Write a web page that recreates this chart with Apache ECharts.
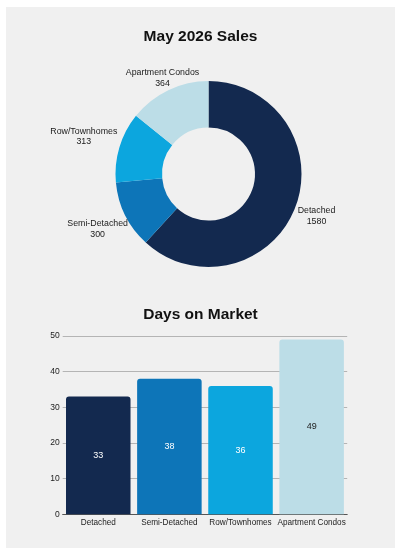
<!DOCTYPE html>
<html>
<head>
<meta charset="utf-8">
<script src="https://cdn.jsdelivr.net/npm/echarts@6/dist/echarts.min.js"></script>
<style>
  html, body { margin: 0; padding: 0; background: #ffffff; }
  #chart { position: absolute; left: 6px; top: 7px; width: 389px; height: 541px; background: #f0f0f0; }
</style>
</head>
<body>
<div id="chart"></div>
<script>
// ---- data ----
var categories = ['Detached', 'Semi-Detached', 'Row/Townhomes', 'Apartment Condos'];
var salesValues = [1580, 300, 313, 364];
var daysOnMarket = [33, 38, 36, 49];
var yTicks = [0, 10, 20, 30, 40, 50];

var pieTitle = 'May 2026 Sales';
var barTitle = 'Days on Market';

// ---- styles ----
var colors = ['#13294f', '#0d75b8', '#0ca6de', '#bcdde7'];
var valueLabelColors = ['#ffffff', '#ffffff', '#ffffff', '#222222'];
var FONT = '"Liberation Sans", Arial, sans-serif';
var PIE_CX = 202.5, PIE_CY = 167;

var chart = echarts.init(document.getElementById('chart'), null, { renderer: 'canvas' });

var option = {
  animation: false,
  backgroundColor: '#f0f0f0',
  textStyle: { fontFamily: FONT },
  title: [
    { text: pieTitle, left: 'center', top: 17,
      textStyle: { fontFamily: FONT, fontSize: 15.5, fontWeight: 'bold', color: '#111111' } },
    { text: barTitle, left: 'center', top: 295,
      textStyle: { fontFamily: FONT, fontSize: 15.5, fontWeight: 'bold', color: '#111111' } }
  ],
  grid: { left: 56.7, top: 329, width: 284.5, height: 178.3, containLabel: false },
  xAxis: {
    type: 'category',
    data: categories,
    axisTick: { show: false },
    axisLine: { show: true, lineStyle: { color: '#555555', width: 1 } },
    axisLabel: { color: '#222222', fontSize: 8.2, margin: 4, interval: 0, fontFamily: FONT }
  },
  yAxis: {
    type: 'value',
    min: yTicks[0],
    max: yTicks[yTicks.length - 1],
    interval: yTicks[1] - yTicks[0],
    axisLine: { show: false },
    axisTick: { show: false },
    axisLabel: { color: '#222222', fontSize: 8.5, margin: 3, fontFamily: FONT },
    splitLine: { lineStyle: { color: '#b4b4b4', width: 1 } }
  },
  series: [
    {
      type: 'pie',
      center: [PIE_CX, PIE_CY],
      radius: [46.5, 93],
      startAngle: 90,
      clockwise: true,
      avoidLabelOverlap: false,
      silent: true,
      data: categories.map(function (c, i) {
        return { name: c, value: salesValues[i], itemStyle: { color: colors[i] } };
      }),
      label: {
        show: true,
        position: 'outside',
        formatter: '{b}\n{c}',
        color: '#1a1a1a',
        fontSize: 8.8,
        lineHeight: 10.5,
        fontFamily: FONT
      },
      labelLine: { show: true, length: 5, length2: 0, lineStyle: { opacity: 0 } },
      labelLayout: function (p) {
        var pts = p.labelLinePoints;
        if (!pts) return {};
        var dx = pts[0][0] - PIE_CX, dy = pts[0][1] - PIE_CY;
        var L = Math.sqrt(dx * dx + dy * dy);
        dx /= L; dy /= L;
        var d = 6.5 + dx * dx * p.labelRect.width / 2;
        return {
          x: pts[0][0] + dx * d,
          y: pts[0][1] + dy * d,
          align: 'center',
          verticalAlign: 'middle'
        };
      }
    },
    {
      type: 'bar',
      silent: true,
      barCategoryGap: '9.3%',
      data: daysOnMarket.map(function (v, i) {
        return {
          value: v,
          itemStyle: { color: colors[i], borderRadius: [3, 3, 0, 0] },
          label: { color: valueLabelColors[i] }
        };
      }),
      label: {
        show: true,
        position: 'inside',
        fontSize: 9,
        fontFamily: FONT
      }
    }
  ]
};

chart.setOption(option);
</script>
</body>
</html>
